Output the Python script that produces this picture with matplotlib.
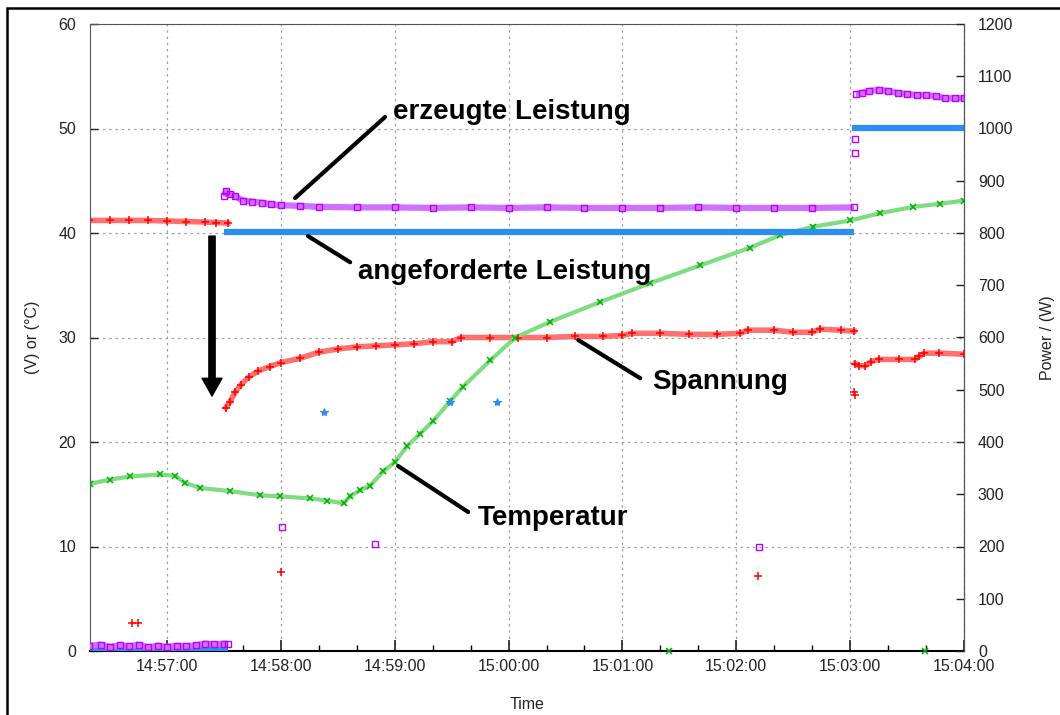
import numpy as np
import matplotlib.pyplot as plt
from matplotlib.ticker import FuncFormatter, MultipleLocator
from matplotlib.patches import Rectangle

plt.rcParams['font.family'] = ['Liberation Sans', 'DejaVu Sans']

nan = np.nan

# time in seconds after 14:56:00
# Spannung (V), left axis
volt_t = [19, 30, 40, 50, 60, 70, 80, 86, 92, nan,
          91, 93, 96, 99, 103, 108, 114, 120, 130, 140,
          150, 160, 170, 180, 190, 200, 210, 215, 230, 245,
          260, 275, 290, 300, 305, 320, 335, 350, 362, 366,
          380, 390, 400, 404, 415, 422, nan,
          422.6, 424.7, 428, 431, 435, 446, 454, 456.5, 459, 467, 480]
volt_v = [41.2, 41.2, 41.2, 41.2, 41.15, 41.1, 41.05, 41.0, 40.95, nan,
          23.3, 23.8, 24.8, 25.5, 26.2, 26.8, 27.2, 27.6, 28.0, 28.6,
          28.9, 29.1, 29.2, 29.3, 29.4, 29.6, 29.6, 30.0, 30.0, 30.0,
          30.0, 30.1, 30.1, 30.2, 30.4, 30.4, 30.3, 30.3, 30.4, 30.7,
          30.7, 30.5, 30.5, 30.8, 30.7, 30.6, nan,
          27.5, 27.3, 27.3, 27.7, 27.9, 27.9, 27.9, 28.2, 28.5, 28.5, 28.4]
volt_out_t = [41.3, 44.9, 120.1, 371.6, 422.2, 422.5]
volt_out_v = [2.7, 2.7, 7.6, 7.2, 24.8, 24.5]

# Temperatur (°C), left axis
temp_t = [19.4, 30, 40.5, 56.3, 64.2, 69.5, 77.4, 93.2, 109, 119.6,
          135.4, 144.2, 153, 156.5, 161.8, 167, 173.9, 180.2, 186.5, 193.4,
          200.2, 209.2, 216, 230.3, 243.5, 261.9, 288.3, 314.6, 341, 367.4,
          383.2, 400.6, 420.1, 435.9, 453.3, 467.5, 480]
temp_v = [16.0, 16.4, 16.7, 16.9, 16.75, 16.1, 15.6, 15.3, 14.9, 14.8,
          14.6, 14.4, 14.13, 14.8, 15.4, 15.8, 17.2, 18.1, 19.6, 20.8,
          22.0, 23.9, 25.3, 27.8, 30.0, 31.5, 33.4, 35.2, 36.9, 38.6,
          39.8, 40.6, 41.2, 41.9, 42.5, 42.8, 43.1]
temp_out_t = [324.7, 459.6]
temp_out_v = [0, 0]

# angeforderte Leistung (W), right axis
req_t = [19, 92, nan, 90, 422, nan, 421, 480]
req_w = [1, 1, nan, 801, 801, nan, 1001, 1001]
req_out_t = [142.8, 209.2, 234.1]
req_out_w = [457, 477, 477]

# erzeugte Leistung (W), right axis
gen_t = [19, 25, 30, 35, 40, 45, 50, 55, 60, 65, 70, 75, 80, 85, 90, 92, nan,
         90, 91, 93, 96, 100, 105, 110, 115, 120, 130,
         140, 160, 180, 200, 220, 240, 260, 280, 300, 320,
         340, 360, 380, 400, 422, nan,
         423, 426, 430, 435, 440, 445, 450, 455, 460, 465, 470, 475, 480]
gen_w = [10, 12, 8, 11, 9, 12, 7, 10, 8, 10, 9, 11, 14, 13, 14, 13, nan,
         870, 880, 875, 870, 862, 860, 858, 855, 853, 852,
         850, 849, 849, 848, 849, 848, 849, 848, 848, 848,
         849, 848, 848, 848, 849, nan,
         1066, 1068, 1072, 1074, 1072, 1068, 1066, 1064, 1064, 1062, 1058, 1058, 1058]
gen_out_t = [120.8, 169.8, 372.1, 422.3, 422.6]
gen_out_w = [238, 205, 199, 980, 954]

RED, RED_L = '#ff0000', '#ff7070'
GREEN, GREEN_L = '#00b000', '#80dc80'
BLUE = '#2a8ff0'
PURPLE, PURPLE_L = '#bb00ff', '#d070ff'


def hms(s, pos=None):
    total = 14 * 3600 + 56 * 60 + int(round(s))
    return f"{total // 3600}:{(total % 3600) // 60:02d}:{total % 60:02d}"


fig = plt.figure(figsize=(10.6, 7.15), dpi=100)
ax = fig.add_axes([90 / 1060, 1 - 651 / 715, 874 / 1060, 627 / 715])
ax2 = ax.twinx()

# left axis series
ax.plot(volt_t, volt_v, color=RED_L, lw=4, zorder=2)
ax.plot(volt_t, volt_v, ls='none', marker='+', ms=6, mew=1.1, color=RED, zorder=3)
ax.plot(volt_out_t, volt_out_v, ls='none', marker='+', ms=6, mew=1.1, color=RED, zorder=3)
ax.plot(temp_t, temp_v, color=GREEN_L, lw=3, zorder=2)
ax.plot(temp_t, temp_v, ls='none', marker='x', ms=4, mew=1.1, color=GREEN, zorder=3)
ax.plot(temp_out_t, temp_out_v, ls='none', marker='x', ms=4, mew=1.1, color=GREEN,
        zorder=3, clip_on=False)

# right axis series
ax2.plot(req_t, req_w, color=BLUE, lw=4.5, zorder=2, solid_capstyle='butt')
ax2.plot(req_out_t, req_out_w, ls='none', marker='*', ms=6, mew=0.8, color=BLUE, zorder=3)
ax2.plot(gen_t, gen_w, color=PURPLE_L, lw=4.5, zorder=2, solid_capstyle='butt')
ax2.plot(gen_t, gen_w, ls='none', marker='s', ms=4.5, mew=1, mfc='none', color=PURPLE, zorder=3)
ax2.plot(gen_out_t, gen_out_w, ls='none', marker='s', ms=4.5, mew=1, mfc='none',
         color=PURPLE, zorder=3)

ax.set_xlim(19.4, 480)
ax.set_ylim(0, 60)
ax2.set_ylim(0, 1200)

ax.xaxis.set_major_locator(MultipleLocator(60))
ax.xaxis.set_minor_locator(MultipleLocator(20))
ax.xaxis.set_major_formatter(FuncFormatter(hms))
ax.yaxis.set_major_locator(MultipleLocator(10))
ax2.yaxis.set_major_locator(MultipleLocator(100))

ax.grid(True, which='major', color='#a0a0a0', ls=(0, (2, 3)), lw=0.9)
ax.tick_params(axis='x', which='major', direction='in', length=8, width=1.2,
               labelsize=11.5, pad=6, colors='#222222', top=False)
ax.tick_params(axis='x', which='minor', direction='in', length=4, width=1, top=False)
ax.tick_params(axis='y', direction='in', length=6, width=1, labelsize=11.5,
               pad=10, colors='#222222')
ax2.tick_params(axis='y', direction='in', length=6, width=1, labelsize=11.5,
                pad=10, colors='#222222')

for sp in ['left', 'top']:
    ax.spines[sp].set_color('#555555')
ax.spines['bottom'].set_color('black')
ax.spines['bottom'].set_linewidth(1.5)
ax2.spines['right'].set_color('#555555')
ax2.spines['top'].set_visible(False)
ax2.spines['bottom'].set_visible(False)
ax2.spines['left'].set_visible(False)

ax.set_xlabel('Time', fontsize=11.5, color='#222222', labelpad=16)
ax.set_ylabel('(V) or (°C)', fontsize=11.5, color='#222222', labelpad=13)
ax2.set_ylabel('Power / (W)', fontsize=11.5, color='#222222', rotation=90, labelpad=19)

# annotations (positions in left-axis data coordinates)
line_kw = dict(arrowstyle='-', lw=3, color='black', shrinkA=0, shrinkB=0)
txt_kw = dict(fontsize=20, fontweight='bold', ha='left', va='center',
              transform=ax.transData, zorder=5)
ax2.annotate('', xy=(127.5, 43.35), xytext=(174.9, 51.1), xycoords=ax.transData,
             textcoords=ax.transData, arrowprops=line_kw)
ax2.text(179.1, 51.6, 'erzeugte Leistung', **txt_kw)
ax2.annotate('', xy=(134.3, 39.7), xytext=(156.5, 37.2), xycoords=ax.transData,
             textcoords=ax.transData, arrowprops=line_kw)
ax2.text(160.7, 36.3, 'angeforderte Leistung', **txt_kw)
ax2.annotate('', xy=(276.7, 29.76), xytext=(309.4, 26.1), xycoords=ax.transData,
             textcoords=ax.transData, arrowprops=line_kw)
ax2.text(315.7, 25.7, 'Spannung', **txt_kw)
ax2.annotate('', xy=(181.8, 17.7), xytext=(218.7, 13.3), xycoords=ax.transData,
             textcoords=ax.transData, arrowprops=line_kw)
ax2.text(224.0, 12.7, 'Temperatur', **txt_kw)
ax2.annotate('', xy=(83.7, 24.4), xytext=(83.7, 39.7), xycoords=ax.transData,
             textcoords=ax.transData,
             arrowprops=dict(arrowstyle='simple,head_width=0.95,head_length=0.85,tail_width=0.3',
                             mutation_scale=15, color='black', shrinkA=0, shrinkB=0))

# outer frame of the original screenshot
fig.patches.append(Rectangle((7 / 1060, -0.05), 1.1, 1.05 - 8 / 715, transform=fig.transFigure,
                             fill=False, lw=1.8, ec='black', clip_on=False))

fig.savefig('out.png', dpi=100)
